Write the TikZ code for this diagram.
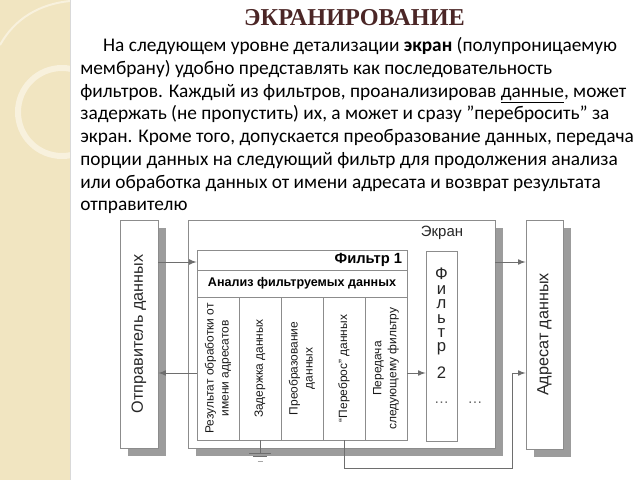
\documentclass[tikz,border=0pt]{standalone}
\usepackage{fontspec}
\setmainfont{Carlito}
\newfontfamily\titlefont{Liberation Serif}
\newfontfamily\diafont{Liberation Sans}
\usetikzlibrary{shadows, positioning}

\definecolor{stripbeige}{HTML}{F1E5C1}
\definecolor{stripline}{HTML}{F8F1DD}
\definecolor{titlebrown}{HTML}{4B2626}
\definecolor{boxgray}{HTML}{8C8C8C}
\definecolor{shadowgray}{HTML}{9C9C9C}
\definecolor{arrowgray}{HTML}{6E6E6E}

\begin{document}
\begin{tikzpicture}[x=0.02cm, y=-0.02cm,
    outerbox/.style={draw=boxgray, fill=white, inner sep=0, line width=0.5pt,
        general shadow={fill=shadowgray, shadow xshift=0.16cm, shadow yshift=-0.16cm}},
    innerbox/.style={draw=boxgray, fill=white, inner sep=0, line width=0.5pt},
    sidetext/.style={rotate=90, font=\diafont\fontsize{9.2}{11}\selectfont, text=black!85},
    cell/.style={innerbox, minimum width=2.86cm, minimum height=0.84cm, rotate=90,
        align=center, font=\diafont\fontsize{6.8}{8.5}\selectfont, text=black!90},
    smalltext/.style={font=\diafont\fontsize{8.5}{10}\selectfont, text=black!85},
    f2text/.style={inner sep=0, font=\diafont\fontsize{9.5}{8.2}\selectfont, text=black!85},
    arr/.style={draw=arrowgray, line width=0.5pt, ->, >=latex},
    gnd/.style={draw=arrowgray, line width=0.5pt}]
    \useasboundingbox (0,0) rectangle (640,480);

    % Background
    \fill[stripbeige] (0,0) rectangle (70,480);
    \begin{scope}
        \clip (0,0) rectangle (70,480);
        \draw[stripline, line width=0.12cm] (62,112) circle (44);
        \draw[stripline, line width=0.04cm] (0,45) .. controls (15,18) and (40,4) .. (70,1);
    \end{scope}
    \draw[black!15] (70,0) -- (70,480);

    % Title and text
    \node (title) [anchor=base, text=titlebrown,
        font=\titlefont\bfseries\fontsize{13.8}{16}\selectfont] at (354.5,26) {ЭКРАНИРОВАНИЕ};
    \node (body) [anchor=north west, inner sep=0, align=left,
        font=\fontsize{11}{12.97}\selectfont] at (80,37) {%
        \hspace*{13pt}На следующем уровне детализации \textbf{экран} (полупроницаемую\\
        мембрану) удобно представлять как последовательность\\
        фильтров. Каждый из фильтров, проанализировав \underline{данные}, может\\
        задержать (не пропустить) их, а может и сразу \char34перебросить\char34{} за\\
        экран. Кроме того, допускается преобразование данных, передача\\
        порции данных на следующий фильтр для продолжения анализа\\
        или обработка данных от имени адресата и возврат результата\\
        отправителю};

    % Nodes
    \node (sender) [outerbox, minimum width=0.76cm, minimum height=4.56cm,
        label={[sidetext]center:Отправитель данных}] at (139,334) {};
    \node (screen) [outerbox, minimum width=6.14cm, minimum height=4.56cm] at (341.5,334) {};
    \node (screenlbl) [smalltext] at (442,233) {Экран};
    \node (receiver) [outerbox, minimum width=0.74cm, minimum height=4.58cm,
        label={[sidetext]center:Адресат данных}] at (544.5,334.5) {};

    \node (f1) [innerbox, minimum width=4.2cm, minimum height=3.8cm] at (302,345) {};
    \node (f1head) [innerbox, minimum width=4.2cm, minimum height=0.4cm] at (302,260) {};
    \node (f1name) [anchor=east, inner sep=0, font=\diafont\bfseries\fontsize{8.4}{10}\selectfont]
        at ([xshift=-0.1cm]f1head.east) {Фильтр 1};
    \node (f1anal) [innerbox, minimum width=4.2cm, minimum height=0.54cm,
        font=\diafont\bfseries\fontsize{7.15}{9}\selectfont] at (302,283.5) {Анализ фильтруемых данных};
    \foreach \x/\name/\txt in {218/col1/{Результат обработки от\\имени адресатов},
        260/col2/{Задержка данных},
        302/col3/{Преобразование\\данных},
        344/col4/{“Переброс” данных},
        386/col5/{Передача\\следующему фильтру}}
        \node (\name) [cell] at (\x,368.5) {\txt};

    \node (f2) [innerbox, minimum width=0.62cm, minimum height=3.8cm] at (441.5,346) {};
    \node (f2name) [f2text, anchor=north, align=center] at (441.5,268) {Ф\\и\\л\\ь\\т\\р};
    \node (f2num) [f2text] at (441.5,373) {2};
    \node (dots1) [smalltext, text=black!60] at (441.5,403) {\dots};
    \node (dots2) [smalltext, text=black!60] at (475,403) {\dots};

    \coordinate (high) at (0,262);
    \coordinate (low) at (0,373);
    \coordinate (bypass) at (512,468);

    % Edges
    \draw[arr] (sender.east |- high) -- (f1.west |- high);
    \draw[arr] (f1.west |- low) -- (sender.east |- low);
    \draw[arr] (screen.east |- high) -- (receiver.west |- high);
    \draw[arr] (f1.east |- low) -- (f2.west |- low);
    \draw[arr] (col4.west) |- (bypass) |- (receiver.west |- low);

    % Ground
    \draw[gnd] (col2.west) -- ++(0,13) coordinate (gtop);
    \draw[gnd] ([xshift=-0.22cm]gtop) -- ([xshift=0.22cm]gtop);
    \draw[gnd] ([xshift=-0.14cm, yshift=-0.06cm]gtop) -- ([xshift=0.14cm, yshift=-0.06cm]gtop);
    \draw[gnd, black!35] ([xshift=-0.05cm, yshift=-0.16cm]gtop) -- ([xshift=0.05cm, yshift=-0.16cm]gtop);
\end{tikzpicture}
\end{document}
